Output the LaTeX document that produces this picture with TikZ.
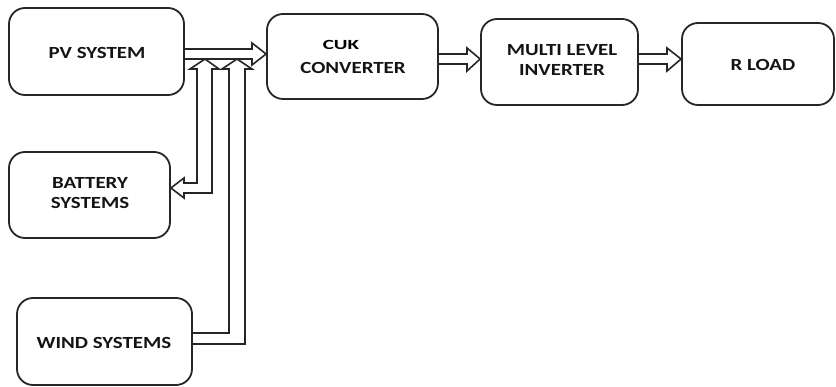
\documentclass[tikz,border=0pt]{standalone}
\usepackage{fontspec}
\usepackage{graphicx}
\setmainfont{Carlito}
\usetikzlibrary{calc}
\newcommand{\wide}[1]{\scalebox{1.23}[1]{#1}}
\newcommand{\wider}[1]{\scalebox{1.5}[1]{#1}}
\begin{document}
\begin{tikzpicture}[x=1pt,y=-1pt,
  blk/.style={draw=black!85, line width=1.8pt, rounded corners=16pt, inner sep=0pt},
  lbl/.style={font=\fontsize{17}{20}\selectfont\bfseries, text=black!92, align=center, inner sep=0pt},
  small/.style={font=\fontsize{14}{16}\selectfont\bfseries, text=black, inner sep=0pt},
  harr/.style={draw=black!85, line width=1.6pt, line join=miter}]
\useasboundingbox (0,0) rectangle (836,387);
% boxes
\node[blk, minimum width=175pt, minimum height=87pt] (pv) at (96.5,51.5) {};
\node[blk, minimum width=161pt, minimum height=86pt] (bat) at (89.5,195) {};
\node[blk, minimum width=175pt, minimum height=87pt] (wind) at (104.5,341.5) {};
\node[blk, minimum width=171pt, minimum height=85pt] (cuk) at (352.5,56.5) {};
\node[blk, minimum width=157pt, minimum height=86pt] (mli) at (559.5,62) {};
\node[blk, minimum width=152pt, minimum height=82pt] (rl) at (758,64) {};
% labels
\node[lbl] (pvt) at (97,53) {\wide{PV SYSTEM}};
\node[lbl] (batt) at (90,195) {\wide{\begin{tabular}{@{}c@{}}BATTERY\\SYSTEMS\end{tabular}}};
\node[lbl] (windt) at (104,343) {\wide{WIND SYSTEMS}};
\node[small] (cukt) at (341,45) {\wider{CUK}};
\node[lbl] (convt) at (353,68) {\wide{CONVERTER}};
\node[lbl] (mlit) at (562,62) {\wide{\begin{tabular}{@{}c@{}}MULTI LEVEL\\INVERTER\end{tabular}}};
\node[lbl] (rlt) at (763,65) {\wide{R LOAD}};
% PV -> CUK
\draw[harr] (pv.east |- 0,49) -- (252,49) -- (252,43) -- (cuk.west |- 0,54)
  -- (252,65) -- (252,59) -- (pv.east |- 0,59);
% battery <-> bus
\draw[harr] (197,69) -- (190,69) -- (205,59) -- (219,69) -- (212,69) -- (212,193)
  -- (184,193) -- (184,198) -- (bat.east |- 0,188) -- (184,178) -- (184,183)
  -- (197,183) -- cycle;
% wind -> bus
\draw[harr] (wind.east |- 0,344) -- (245,344) -- (245,69) -- (252,69) -- (237,59)
  -- (222,69) -- (229,69) -- (229,333) -- (wind.east |- 0,333);
% CUK -> MLI
\draw[harr] (cuk.east |- 0,54) -- (467,54) -- (467,48) -- (mli.west |- 0,59)
  -- (467,71) -- (467,64) -- (cuk.east |- 0,64);
% MLI -> R LOAD
\draw[harr] (mli.east |- 0,54) -- (667,54) -- (667,48) -- (rl.west |- 0,59)
  -- (667,71) -- (667,64) -- (mli.east |- 0,64);
\end{tikzpicture}
\end{document}
